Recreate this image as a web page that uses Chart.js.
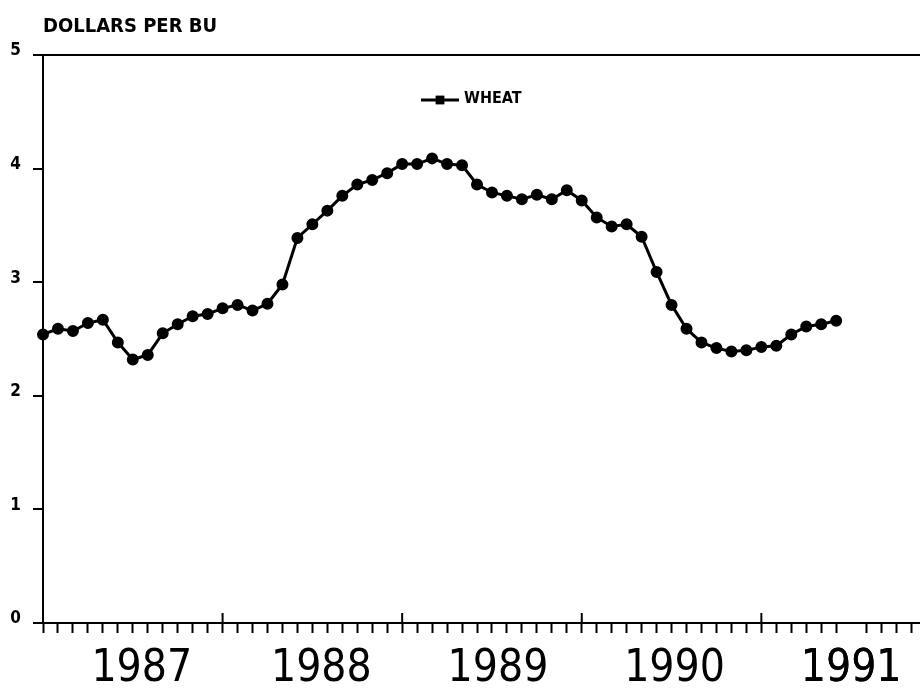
<!DOCTYPE html>
<html>
<head>
<meta charset="utf-8">
<script src="https://cdn.jsdelivr.net/npm/chart.js@4.4.0/dist/chart.umd.min.js"></script>
<style>
  html, body { margin: 0; padding: 0; background: #fff; overflow: hidden; }
  canvas { display: block; }
</style>
</head>
<body>
<canvas id="wheat" width="921" height="695"></canvas>
<script>
// monthly wheat price, dollars per bushel
var wheatPrices = [
  2.54, 2.59, 2.57, 2.64, 2.67, 2.47, 2.32, 2.36, 2.55, 2.63,
  2.70, 2.72, 2.77, 2.80, 2.75, 2.81, 2.98, 3.39, 3.51, 3.63,
  3.76, 3.86, 3.90, 3.96, 4.04, 4.04, 4.09, 4.04, 4.03, 3.86,
  3.79, 3.76, 3.73, 3.77, 3.73, 3.81, 3.72, 3.57, 3.49, 3.51,
  3.40, 3.09, 2.80, 2.59, 2.47, 2.42, 2.39, 2.40, 2.43, 2.44,
  2.54, 2.61, 2.63, 2.66
];
var yearLabels = ['1987', '1988', '1989', '1990', '1991'];
var yearTicks = [6.6, 18.6, 30.4, 42.2, 54.0];   // month index where each year label sits
var majorTicks = [12, 24, 36, 48];
var yTicks = [0, 1, 2, 3, 4, 5];
var titleText = 'DOLLARS PER BU';
var seriesName = 'WHEAT';

var narrow = "'Liberation Sans Narrow', 'DejaVu Sans Condensed', 'Arial Narrow', sans-serif";

var points = wheatPrices.map(function (p, i) { return { x: i, y: p }; });

var extras = {
  id: 'extras',
  afterDraw: function (chart) {
    var ctx = chart.ctx, area = chart.chartArea, xs = chart.scales.x;
    ctx.save();
    ctx.fillStyle = '#000';
    ctx.strokeStyle = '#000';

    // heading above the plot
    ctx.font = 'bold 20px ' + narrow;
    ctx.textBaseline = 'alphabetic';
    ctx.fillText(titleText, area.left, 32);

    // year marks poke up through the axis
    ctx.lineWidth = 2;
    majorTicks.forEach(function (v) {
      var px = xs.getPixelForValue(v);
      ctx.beginPath();
      ctx.moveTo(px, area.bottom - 10);
      ctx.lineTo(px, area.bottom);
      ctx.stroke();
    });

    // legend inside the box
    var ds = chart.data.datasets[0];
    ctx.lineWidth = ds.borderWidth;
    ctx.beginPath();
    ctx.moveTo(421, 100);
    ctx.lineTo(459, 100);
    ctx.stroke();
    Chart.helpers.drawPoint(ctx, { pointStyle: 'rect', radius: 6, rotation: 0 }, 440, 100);
    ctx.fill();
    ctx.font = 'bold 16px ' + narrow;
    ctx.textBaseline = 'middle';
    ctx.fillText(ds.label, 464, 99);
    ctx.restore();
  }
};

new Chart(document.getElementById('wheat').getContext('2d'), {
  type: 'line',
  data: {
    datasets: [{
      label: seriesName,
      data: points,
      borderColor: '#000',
      backgroundColor: '#000',
      borderWidth: 3,
      pointRadius: 4.5,
      pointBackgroundColor: '#000',
      pointBorderColor: '#000',
      tension: 0,
      fill: false,
      clip: false
    }]
  },
  options: {
    responsive: false,
    animation: false,
    devicePixelRatio: 1,
    layout: { autoPadding: false, padding: { top: 55, right: 0, left: 0, bottom: 0 } },
    plugins: {
      legend: { display: false },
      title: { display: false },
      tooltip: { enabled: false }
    },
    scales: {
      x: {
        type: 'linear',
        min: 0,
        max: 58.6,
        afterBuildTicks: function (scale) {
          var t = [];
          for (var m = 0; m <= 58; m++) t.push(m);
          t = t.concat(yearTicks).sort(function (a, b) { return a - b; });
          scale.ticks = t.map(function (v) { return { value: v }; });
        },
        afterFit: function (scale) { scale.height = 72; },
        ticks: {
          autoSkip: false,
          maxRotation: 0,
          padding: 10,
          color: '#000',
          font: { family: narrow, size: 44 },
          callback: function (v) {
            var k = yearTicks.indexOf(v);
            return k >= 0 ? yearLabels[k] : '';
          }
        },
        grid: {
          drawOnChartArea: false,
          tickLength: 10,
          tickWidth: 2,
          tickColor: function (c) {
            return (c.tick && yearTicks.indexOf(c.tick.value) >= 0) ? 'rgba(0,0,0,0)' : '#000';
          }
        },
        border: { color: '#000', width: 2 }
      },
      y: {
        min: 0,
        max: 5,
        afterBuildTicks: function (scale) {
          scale.ticks = yTicks.map(function (v) { return { value: v }; });
        },
        afterFit: function (scale) { scale.width = 43; },
        ticks: {
          padding: 12,
          color: '#000',
          labelOffset: -4,
          font: { family: narrow, size: 17, weight: 'bold' }
        },
        grid: {
          lineWidth: 2,
          tickLength: 10,
          tickWidth: 2,
          tickColor: '#000',
          color: function (c) {
            return (c.tick && c.tick.value === 5) ? '#000' : 'rgba(0,0,0,0)';
          }
        },
        border: { color: '#000', width: 2 }
      }
    }
  },
  plugins: [extras]
});
</script>
</body>
</html>
